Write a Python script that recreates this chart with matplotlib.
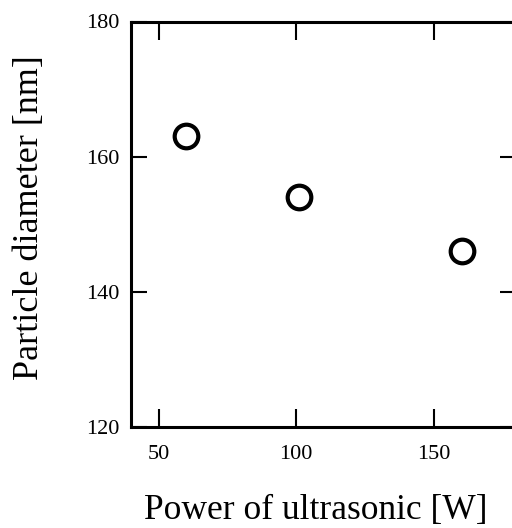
import matplotlib
matplotlib.use("Agg")
import matplotlib.pyplot as plt

power = [60, 101, 160.5]
diameter = [163, 154, 146]
xticks = [50, 100, 150]
yticks = [120, 140, 160, 180]

plt.rcParams['font.family'] = ['Liberation Serif', 'DejaVu Serif']

fig = plt.figure(figsize=(5.12, 5.28), dpi=100)
W, H = 512, 528
left, right, top, bottom = 131, 516, 21.5, 427
ax = fig.add_axes([left / W, 1 - bottom / H, (right - left) / W, (bottom - top) / H])

ax.plot(power, diameter, linestyle='none', marker='o', markersize=17,
        markerfacecolor='white', markeredgecolor='black', markeredgewidth=3.0)

ax.set_xlim(40, 180)
ax.set_ylim(120, 180)
ax.set_xticks(xticks)
ax.set_yticks(yticks)
ax.tick_params(axis='x', direction='in', length=13, width=1.5, top=True,
               pad=13, labelsize=16)
ax.tick_params(axis='y', direction='in', length=11.5, width=1.5, right=True,
               pad=8, labelsize=16)
for s in ax.spines.values():
    s.set_linewidth(2.2)

fig.text(316 / W, 1 - 511 / H, 'Power of ultrasonic [W]', ha='center', va='center',
         fontsize=25.5)
fig.text(30 / W, 1 - 218 / H, 'Particle diameter [nm]', ha='center', va='center',
         fontsize=26, rotation=90)

fig.savefig('out.png', dpi=100)
